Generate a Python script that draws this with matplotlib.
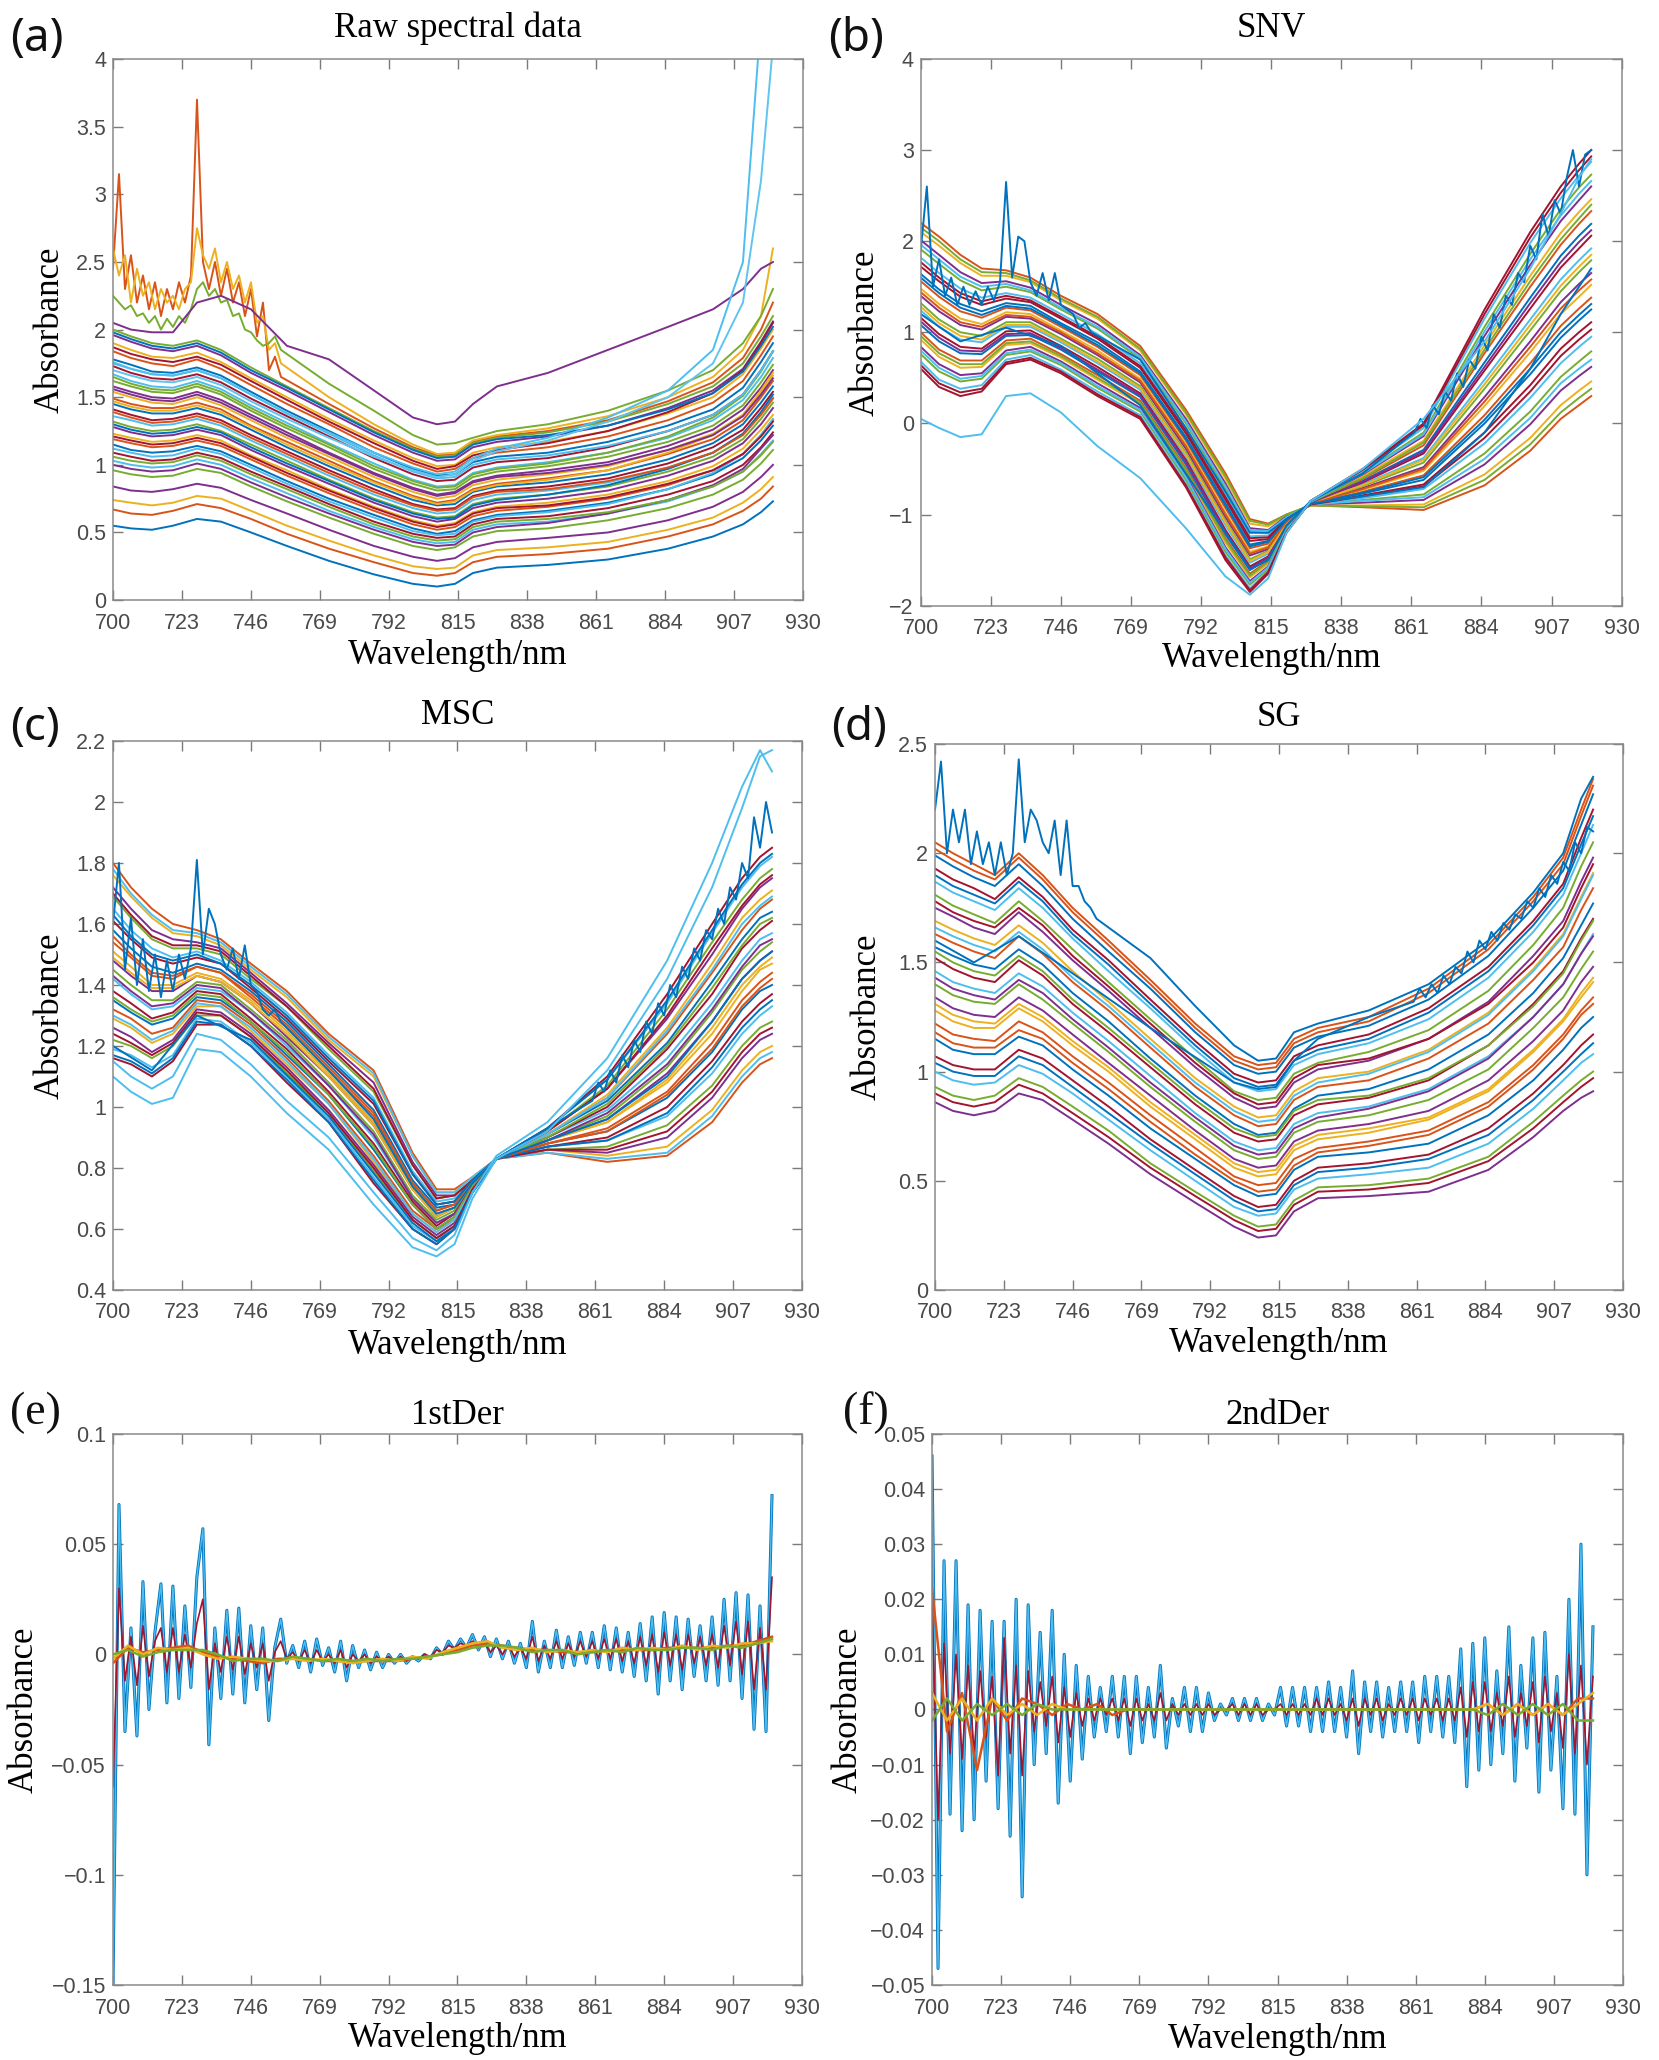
import numpy as np
import matplotlib.pyplot as plt
from matplotlib.ticker import FixedLocator, FuncFormatter

plt.rcParams['font.family'] = ['Liberation Sans', 'DejaVu Sans']

# MATLAB default line colour order
COLORS = ['#0072BD', '#D95319', '#EDB120', '#7E2F8E', '#77AC30', '#4DBEEE', '#A2142F']

# wavelength grids (nm)
WL = [700, 706, 713, 720, 728, 736, 746, 758, 772, 787, 800, 808, 814, 820, 828, 845, 865, 885, 900, 910, 916, 920]
WLN = list(range(700, 757, 2)) + [772, 787, 800, 808, 814, 820, 828, 845, 865, 885, 900, 910, 916, 920]
WLR = [700, 713, 728, 746, 772, 800, 808, 814, 820, 828, 845] + list(range(860, 921, 2))
WLD = list(range(700, 921, 2))
WLB = list(range(700, 921, 5))

# ---------------- (a) raw spectra ----------------
RAW = [
    [.55, .53, .52, .55, .60, .58, .50, .40, .29, .19, .12, .10, .12, .20, .24, .26, .30, .38, .47, .56, .65, .73],
    [.67, .64, .63, .66, .71, .68, .60, .49, .38, .28, .20, .18, .20, .28, .32, .34, .38, .47, .56, .66, .75, .84],
    [.74, .72, .70, .72, .77, .75, .66, .55, .44, .33, .25, .23, .24, .33, .37, .39, .43, .52, .61, .72, .82, .91],
    [.84, .81, .80, .82, .86, .83, .74, .64, .52, .40, .32, .29, .31, .39, .43, .46, .50, .59, .69, .80, .91, 1.00],
    [.96, .93, .91, .92, .97, .94, .84, .73, .61, .49, .40, .37, .39, .47, .51, .53, .59, .68, .78, .89, 1.01, 1.11],
    [1.03, 1.00, .98, .99, 1.04, 1.00, .90, .79, .66, .54, .45, .42, .43, .52, .56, .58, .64, .73, .84, .95, 1.08, 1.18],
    [1.09, 1.06, 1.03, 1.04, 1.09, 1.05, .95, .84, .71, .58, .49, .46, .47, .56, .60, .62, .68, .78, .88, 1.00, 1.13, 1.24],
    [1.15, 1.11, 1.09, 1.10, 1.14, 1.10, 1.00, .88, .75, .63, .53, .49, .51, .59, .63, .66, .72, .82, .93, 1.05, 1.18, 1.29],
    [1.19, 1.16, 1.13, 1.14, 1.18, 1.14, 1.04, .92, .79, .66, .56, .52, .54, .62, .66, .69, .75, .85, .96, 1.08, 1.22, 1.33],
    [1.23, 1.20, 1.17, 1.18, 1.22, 1.18, 1.07, .96, .82, .69, .59, .55, .57, .65, .69, .72, .78, .88, .99, 1.12, 1.26, 1.37],
    [1.28, 1.24, 1.21, 1.22, 1.26, 1.22, 1.11, .99, .86, .72, .62, .58, .60, .68, .72, .75, .81, .92, 1.03, 1.16, 1.30, 1.42],
    [1.32, 1.28, 1.25, 1.26, 1.30, 1.25, 1.15, 1.03, .89, .75, .65, .61, .62, .71, .75, .78, .84, .95, 1.06, 1.19, 1.34, 1.46],
    [1.36, 1.33, 1.29, 1.30, 1.34, 1.29, 1.18, 1.06, .92, .78, .68, .64, .65, .74, .78, .81, .87, .98, 1.09, 1.23, 1.38, 1.50],
    [1.41, 1.37, 1.33, 1.34, 1.38, 1.33, 1.22, 1.10, .96, .82, .71, .67, .68, .77, .81, .84, .90, 1.01, 1.13, 1.26, 1.42, 1.54],
    [1.45, 1.41, 1.38, 1.38, 1.42, 1.37, 1.26, 1.13, .99, .85, .74, .70, .71, .80, .84, .87, .93, 1.04, 1.16, 1.30, 1.46, 1.58],
    [1.49, 1.45, 1.42, 1.42, 1.46, 1.41, 1.29, 1.17, 1.03, .88, .77, .72, .74, .82, .86, .90, .96, 1.08, 1.19, 1.33, 1.50, 1.62],
    [1.54, 1.50, 1.46, 1.45, 1.50, 1.44, 1.33, 1.20, 1.06, .91, .80, .75, .77, .85, .89, .93, .99, 1.11, 1.23, 1.37, 1.53, 1.66],
    [1.58, 1.54, 1.50, 1.49, 1.54, 1.48, 1.37, 1.24, 1.09, .94, .83, .78, .80, .88, .92, .96, 1.02, 1.14, 1.26, 1.41, 1.57, 1.70],
    [1.62, 1.58, 1.54, 1.53, 1.58, 1.52, 1.40, 1.27, 1.13, .97, .86, .81, .82, .91, .95, .99, 1.06, 1.17, 1.29, 1.44, 1.61, 1.74],
    [1.67, 1.62, 1.58, 1.57, 1.62, 1.56, 1.44, 1.31, 1.16, 1.01, .89, .84, .85, .94, .98, 1.02, 1.09, 1.20, 1.33, 1.48, 1.65, 1.79],
    [1.73, 1.68, 1.64, 1.63, 1.67, 1.61, 1.49, 1.36, 1.21, 1.05, .93, .88, .89, .98, 1.02, 1.05, 1.13, 1.25, 1.37, 1.52, 1.70, 1.84],
    [1.78, 1.74, 1.69, 1.68, 1.72, 1.66, 1.54, 1.40, 1.25, 1.09, .97, .92, .93, 1.02, 1.06, 1.09, 1.17, 1.29, 1.41, 1.57, 1.76, 1.90],
    [1.84, 1.79, 1.75, 1.73, 1.78, 1.71, 1.59, 1.45, 1.30, 1.13, 1.01, .95, .97, 1.05, 1.09, 1.13, 1.21, 1.33, 1.46, 1.62, 1.81, 1.95],
    [1.90, 1.85, 1.80, 1.79, 1.83, 1.76, 1.64, 1.50, 1.34, 1.18, 1.05, .99, 1.00, 1.09, 1.13, 1.17, 1.25, 1.38, 1.50, 1.67, 1.86, 2.00],
    [1.96, 1.91, 1.86, 1.84, 1.88, 1.81, 1.68, 1.55, 1.39, 1.22, 1.09, 1.03, 1.04, 1.13, 1.17, 1.21, 1.29, 1.42, 1.55, 1.71, 1.91, 2.06],
    [2.00, 1.95, 1.90, 1.88, 1.92, 1.85, 1.72, 1.58, 1.42, 1.25, 1.12, 1.06, 1.07, 1.16, 1.20, 1.24, 1.32, 1.45, 1.58, 1.75, 1.95, 2.10],
]
RAW_MID = [
    [1.00, .97, .95, .96, 1.01, .97, .87, .76, .64, .52, .43, .40, .41, .50, .54, .57, .64, .74, .85, .97, 1.12, 1.22],
    [1.06, 1.03, 1.01, 1.02, 1.07, 1.03, .93, .82, .69, .56, .47, .44, .45, .54, .58, .60, .65, .74, .84, .95, 1.07, 1.17],
    [1.12, 1.09, 1.06, 1.07, 1.12, 1.08, .98, .86, .73, .61, .51, .48, .49, .58, .62, .65, .71, .82, .94, 1.08, 1.22, 1.34],
    [1.21, 1.18, 1.15, 1.16, 1.20, 1.16, 1.06, .94, .81, .68, .58, .54, .56, .64, .68, .70, .76, .86, .96, 1.08, 1.21, 1.32],
    [1.30, 1.26, 1.23, 1.24, 1.28, 1.24, 1.13, 1.01, .88, .74, .64, .60, .61, .70, .74, .78, .85, .97, 1.09, 1.23, 1.39, 1.52],
    [1.39, 1.35, 1.31, 1.32, 1.36, 1.31, 1.20, 1.08, .94, .80, .70, .66, .67, .76, .80, .82, .88, .98, 1.09, 1.22, 1.37, 1.49],
    [1.47, 1.43, 1.40, 1.40, 1.44, 1.39, 1.28, 1.15, 1.01, .87, .76, .71, .73, .81, .85, .89, .96, 1.09, 1.22, 1.37, 1.55, 1.68],
    [1.56, 1.52, 1.48, 1.47, 1.52, 1.46, 1.35, 1.22, 1.08, .93, .82, .77, .79, .87, .91, .94, 1.00, 1.11, 1.22, 1.36, 1.52, 1.64],
    [1.65, 1.60, 1.56, 1.55, 1.60, 1.54, 1.42, 1.29, 1.15, .99, .88, .83, .84, .93, .97, 1.01, 1.09, 1.21, 1.35, 1.51, 1.69, 1.84],
    [1.76, 1.71, 1.67, 1.66, 1.70, 1.64, 1.52, 1.38, 1.23, 1.07, .95, .90, .91, 1.00, 1.04, 1.07, 1.14, 1.25, 1.37, 1.52, 1.70, 1.84],
    [1.87, 1.82, 1.78, 1.76, 1.80, 1.74, 1.62, 1.48, 1.32, 1.16, 1.03, .97, .99, 1.07, 1.11, 1.16, 1.25, 1.39, 1.53, 1.70, 1.90, 2.05],
    [1.98, 1.93, 1.88, 1.86, 1.90, 1.83, 1.70, 1.57, 1.41, 1.24, 1.11, 1.05, 1.06, 1.15, 1.19, 1.22, 1.29, 1.41, 1.53, 1.69, 1.88, 2.02],
]
RAW_NOISY = {
    '#D95319': [2.45, 3.15, 2.3, 2.55, 2.2, 2.4, 2.15, 2.35, 2.1, 2.3, 2.15, 2.35, 2.2, 2.4, 3.7,
                2.5, 2.3, 2.5, 2.25, 2.45, 2.2, 2.35, 2.1, 2.3, 1.95, 2.2, 1.7, 1.8, 1.65,
                1.45, 1.27, 1.13, 1.07, 1.08, 1.17, 1.21, 1.25, 1.33, 1.47, 1.61, 1.79, 2.00, 2.2],
    '#EDB120': [2.6, 2.4, 2.55, 2.2, 2.45, 2.25, 2.35, 2.15, 2.3, 2.2, 2.25, 2.15, 2.3, 2.35, 2.75,
                2.55, 2.45, 2.6, 2.35, 2.5, 2.3, 2.4, 2.2, 2.35, 2.05, 2.1, 1.85, 1.9, 1.75,
                1.5, 1.30, 1.15, 1.08, 1.09, 1.18, 1.22, 1.27, 1.36, 1.5, 1.65, 1.85, 2.1, 2.6],
    '#77AC30': [2.25, 2.2, 2.15, 2.18, 2.1, 2.12, 2.05, 2.1, 2.0, 2.08, 2.02, 2.1, 2.05, 2.15, 2.3,
                2.35, 2.25, 2.3, 2.2, 2.22, 2.1, 2.12, 2.0, 1.98, 1.92, 1.88, 1.9, 1.95, 1.85,
                1.6, 1.4, 1.22, 1.15, 1.16, 1.2, 1.25, 1.3, 1.4, 1.55, 1.7, 1.9, 2.1, 2.3],
}
RAW_OUTLIERS = {
    '#7E2F8E': [2.05, 2.0, 1.98, 1.98, 2.2, 2.25, 2.15, 1.88, 1.78, 1.55, 1.35, 1.30, 1.32, 1.45, 1.58, 1.68, 1.85, 2.02, 2.15, 2.3, 2.45, 2.5],
    '#4DBEEE': [1.75, 1.71, 1.67, 1.66, 1.70, 1.64, 1.52, 1.38, 1.24, 1.09, .98, .93, .95, 1.05, 1.12, 1.20, 1.35, 1.55, 1.85, 2.5, 4.3, 5.0],
    '#5fc4ee': [1.70, 1.66, 1.62, 1.61, 1.65, 1.59, 1.47, 1.34, 1.20, 1.06, .96, .91, .93, 1.03, 1.10, 1.18, 1.32, 1.50, 1.75, 2.2, 3.1, 4.1],
}

# ---------------- (b) SNV ----------------
SNV = [
    [2.2, 2.05, 1.85, 1.7, 1.68, 1.6, 1.4, 1.2, .85, .15, -.55, -1.05, -1.1, -1.0, -.9, -.92, -.95, -.68, -.3, .05, .2, .3],
    [2.10, 1.95, 1.76, 1.62, 1.62, 1.55, 1.35, 1.15, .80, .10, -.61, -1.10, -1.13, -1.01, -.90, -.90, -.89, -.56, -.16, .20, .36, .46],
    [2.01, 1.85, 1.66, 1.54, 1.56, 1.49, 1.30, 1.09, .75, .05, -.66, -1.15, -1.17, -1.02, -.89, -.87, -.84, -.45, -.01, .36, .52, .62],
    [1.91, 1.75, 1.57, 1.46, 1.50, 1.44, 1.25, 1.04, .71, .00, -.72, -1.19, -1.20, -1.04, -.89, -.84, -.78, -.33, .13, .51, .68, .79],
    [1.82, 1.65, 1.48, 1.38, 1.43, 1.38, 1.20, .98, .66, -.05, -.78, -1.24, -1.23, -1.05, -.89, -.82, -.72, -.22, .28, .66, .84, .95],
    [1.72, 1.56, 1.39, 1.30, 1.37, 1.33, 1.15, .93, .61, -.11, -.84, -1.29, -1.27, -1.06, -.89, -.79, -.67, -.10, .42, .82, 1.00, 1.11],
    [1.64, 1.47, 1.31, 1.23, 1.32, 1.29, 1.10, .89, .57, -.15, -.88, -1.33, -1.29, -1.07, -.88, -.77, -.62, .00, .54, .94, 1.13, 1.25],
    [1.56, 1.39, 1.23, 1.16, 1.27, 1.24, 1.06, .84, .53, -.19, -.93, -1.37, -1.32, -1.08, -.88, -.75, -.57, .09, .66, 1.07, 1.26, 1.38],
    [1.48, 1.31, 1.15, 1.09, 1.22, 1.20, 1.02, .80, .49, -.23, -.98, -1.41, -1.35, -1.09, -.88, -.73, -.52, .19, .78, 1.20, 1.39, 1.52],
    [1.40, 1.23, 1.08, 1.03, 1.17, 1.15, .98, .75, .45, -.28, -1.03, -1.45, -1.38, -1.10, -.88, -.71, -.48, .29, .90, 1.33, 1.53, 1.65],
    [1.32, 1.14, 1.00, .96, 1.11, 1.11, .93, .71, .41, -.32, -1.07, -1.49, -1.40, -1.11, -.87, -.69, -.43, .38, 1.02, 1.45, 1.66, 1.79],
    [1.24, 1.06, .92, .89, 1.06, 1.06, .89, .66, .37, -.36, -1.12, -1.53, -1.43, -1.12, -.87, -.67, -.38, .48, 1.14, 1.58, 1.79, 1.92],
    [1.16, .98, .84, .82, 1.01, 1.02, .85, .62, .33, -.40, -1.17, -1.57, -1.46, -1.13, -.87, -.65, -.33, .58, 1.26, 1.71, 1.92, 2.06],
    [1.08, .90, .77, .76, .96, .97, .81, .57, .29, -.45, -1.22, -1.61, -1.49, -1.14, -.87, -.63, -.29, .67, 1.38, 1.84, 2.06, 2.19],
    [1.00, .81, .69, .69, .91, .93, .76, .53, .25, -.49, -1.26, -1.65, -1.51, -1.15, -.86, -.61, -.24, .77, 1.50, 1.96, 2.19, 2.33],
    [.92, .73, .61, .62, .86, .88, .72, .48, .21, -.53, -1.31, -1.69, -1.54, -1.16, -.86, -.58, -.19, .86, 1.62, 2.09, 2.32, 2.46],
    [.84, .65, .53, .55, .80, .84, .68, .44, .17, -.57, -1.36, -1.73, -1.57, -1.17, -.86, -.56, -.14, .96, 1.74, 2.22, 2.45, 2.60],
    [.76, .57, .46, .49, .75, .79, .64, .39, .13, -.62, -1.41, -1.77, -1.60, -1.18, -.86, -.54, -.10, 1.06, 1.86, 2.35, 2.59, 2.73],
    [.68, .48, .38, .42, .70, .75, .59, .35, .09, -.66, -1.45, -1.81, -1.62, -1.19, -.85, -.52, -.05, 1.15, 1.98, 2.47, 2.72, 2.87],
    [.6, .4, .3, .35, .65, .7, .55, .3, .05, -.7, -1.5, -1.85, -1.65, -1.2, -.85, -.5, 0, 1.25, 2.1, 2.6, 2.85, 3.0],
]
SNV_MID = [
    [2.15, 2.00, 1.80, 1.66, 1.65, 1.57, 1.37, 1.17, .82, .12, -.58, -1.07, -1.11, -1.00, -.90, -.91, -.92, -.62, -.23, .12, .28, .38],
    [1.96, 1.80, 1.61, 1.50, 1.53, 1.46, 1.27, 1.06, .73, .02, -.69, -1.17, -1.18, -1.03, -.89, -.85, -.81, -.39, .06, .44, .60, .70],
    [1.77, 1.60, 1.43, 1.34, 1.40, 1.35, 1.17, .95, .63, -.08, -.81, -1.26, -1.25, -1.05, -.89, -.80, -.69, -.16, .35, .74, .92, 1.03],
    [1.60, 1.43, 1.27, 1.19, 1.29, 1.26, 1.08, .86, .55, -.17, -.90, -1.35, -1.30, -1.07, -.88, -.76, -.59, .04, .60, 1.00, 1.19, 1.31],
    [1.44, 1.27, 1.11, 1.06, 1.19, 1.17, 1.00, .77, .47, -.25, -1.00, -1.43, -1.36, -1.09, -.88, -.72, -.50, .24, .84, 1.26, 1.46, 1.58],
    [1.28, 1.10, .96, .92, 1.08, 1.08, .91, .68, .39, -.34, -1.09, -1.51, -1.41, -1.11, -.87, -.68, -.40, .43, 1.08, 1.51, 1.72, 1.85],
    [1.12, .94, .80, .79, .98, .99, .83, .59, .31, -.42, -1.19, -1.59, -1.47, -1.13, -.87, -.64, -.31, .62, 1.32, 1.77, 1.99, 2.12],
    [.96, .77, .65, .65, .88, .90, .74, .50, .23, -.51, -1.28, -1.67, -1.52, -1.15, -.86, -.60, -.21, .81, 1.56, 2.02, 2.25, 2.40],
    [.80, .61, .49, .52, .77, .81, .66, .41, .15, -.59, -1.38, -1.75, -1.58, -1.17, -.86, -.55, -.12, 1.01, 1.80, 2.28, 2.52, 2.66],
    [.64, .44, .34, .38, .67, .72, .57, .32, .07, -.68, -1.47, -1.83, -1.63, -1.19, -.85, -.51, -.02, 1.20, 2.04, 2.53, 2.78, 2.93],
]
SNV_NOISY_LEFT = [1.9, 2.6, 1.5, 1.8, 1.4, 1.6, 1.3, 1.5, 1.3, 1.45, 1.3, 1.5, 1.35, 1.55, 2.65,
                  1.6, 2.05, 2.0, 1.55, 1.4, 1.65, 1.35, 1.65, 1.3, 1.25, 1.2, 1.05, 1.1, 1.0,
                  .7, -.05, -.75, -1.2, -1.2, -1.05, -.88, -.8, -.7, -.1, .6, 1.2, 1.5, 1.7]
SNV_NOISY_RIGHT = [1.2, .9, 1.05, .85, .2, -1.2, -1.6, -1.5, -1.12, -.85, -.55,
                   -.15, -.1, .05, -.05, .2, .1, .35, .25, .55, .4, .7, .6, .95, .8, 1.2, 1.05,
                   1.4, 1.3, 1.65, 1.55, 1.95, 1.8, 2.3, 2.05, 2.45, 2.3, 2.7, 3.0, 2.6, 2.95, 3.0]
SNV_OUTLIER = [.05, -.05, -.15, -.12, .3, .33, .12, -.25, -.6, -1.15, -1.68, -1.88, -1.7, -1.2, -.85, -.5, .05, .9, 1.7, 2.3, 2.7, 2.9]

# ---------------- (c) MSC ----------------
MSC = [
    [1.80, 1.72, 1.65, 1.60, 1.58, 1.55, 1.47, 1.38, 1.24, 1.12, .85, .73, .73, .77, .83, .85, .82, .84, .95, 1.08, 1.14, 1.16],
    [1.76, 1.69, 1.62, 1.57, 1.56, 1.53, 1.45, 1.36, 1.22, 1.10, .84, .72, .72, .77, .83, .86, .84, .87, .99, 1.12, 1.18, 1.20],
    [1.72, 1.65, 1.58, 1.55, 1.54, 1.52, 1.44, 1.34, 1.21, 1.08, .82, .71, .71, .76, .83, .86, .85, .90, 1.03, 1.16, 1.22, 1.24],
    [1.69, 1.62, 1.55, 1.52, 1.52, 1.50, 1.42, 1.33, 1.19, 1.05, .81, .70, .71, .76, .83, .86, .87, .94, 1.07, 1.20, 1.26, 1.28],
    [1.65, 1.58, 1.52, 1.49, 1.51, 1.48, 1.41, 1.31, 1.17, 1.03, .79, .69, .70, .76, .83, .87, .89, .97, 1.11, 1.24, 1.30, 1.33],
    [1.61, 1.55, 1.49, 1.47, 1.49, 1.47, 1.39, 1.29, 1.15, 1.01, .78, .68, .69, .76, .83, .87, .90, 1.00, 1.15, 1.28, 1.34, 1.37],
    [1.58, 1.52, 1.46, 1.44, 1.47, 1.45, 1.38, 1.28, 1.14, .99, .76, .67, .68, .75, .83, .88, .92, 1.03, 1.18, 1.32, 1.38, 1.40],
    [1.54, 1.49, 1.43, 1.42, 1.46, 1.44, 1.36, 1.26, 1.12, .97, .75, .66, .68, .75, .83, .88, .93, 1.05, 1.21, 1.35, 1.41, 1.44],
    [1.51, 1.46, 1.40, 1.40, 1.44, 1.42, 1.35, 1.25, 1.11, .95, .74, .65, .67, .75, .83, .89, .95, 1.08, 1.24, 1.38, 1.45, 1.47],
    [1.48, 1.43, 1.38, 1.38, 1.43, 1.41, 1.34, 1.23, 1.10, .94, .73, .64, .67, .75, .83, .89, .96, 1.11, 1.28, 1.42, 1.48, 1.51],
    [1.45, 1.40, 1.35, 1.35, 1.41, 1.40, 1.32, 1.22, 1.08, .92, .71, .63, .66, .74, .83, .89, .97, 1.13, 1.31, 1.45, 1.51, 1.54],
    [1.42, 1.37, 1.32, 1.33, 1.39, 1.38, 1.31, 1.20, 1.07, .90, .70, .62, .65, .74, .83, .90, .99, 1.16, 1.34, 1.48, 1.55, 1.57],
    [1.38, 1.34, 1.29, 1.31, 1.38, 1.37, 1.29, 1.19, 1.05, .88, .69, .61, .65, .74, .83, .90, 1.00, 1.19, 1.37, 1.52, 1.58, 1.61],
    [1.35, 1.31, 1.27, 1.29, 1.36, 1.35, 1.28, 1.17, 1.04, .86, .68, .60, .64, .74, .83, .91, 1.02, 1.21, 1.41, 1.55, 1.62, 1.64],
    [1.32, 1.29, 1.24, 1.26, 1.35, 1.34, 1.27, 1.16, 1.02, .84, .66, .60, .63, .73, .83, .91, 1.03, 1.24, 1.44, 1.58, 1.65, 1.68],
    [1.29, 1.26, 1.21, 1.24, 1.33, 1.33, 1.25, 1.14, 1.01, .82, .65, .59, .63, .73, .83, .91, 1.04, 1.26, 1.47, 1.62, 1.68, 1.71],
    [1.26, 1.23, 1.18, 1.22, 1.32, 1.31, 1.24, 1.13, .99, .81, .64, .58, .62, .73, .83, .92, 1.06, 1.29, 1.50, 1.65, 1.72, 1.75],
    [1.22, 1.20, 1.16, 1.20, 1.30, 1.30, 1.23, 1.11, .98, .79, .63, .57, .61, .73, .83, .92, 1.07, 1.32, 1.54, 1.68, 1.75, 1.78],
    [1.19, 1.17, 1.13, 1.17, 1.29, 1.28, 1.21, 1.10, .96, .77, .61, .56, .61, .72, .83, .93, 1.09, 1.34, 1.57, 1.72, 1.79, 1.82],
    [1.16, 1.14, 1.10, 1.15, 1.27, 1.27, 1.20, 1.08, .95, .75, .60, .55, .60, .72, .83, .93, 1.10, 1.37, 1.60, 1.75, 1.82, 1.85],
]
MSC_MID = [
    [1.78, 1.70, 1.63, 1.58, 1.57, 1.54, 1.46, 1.37, 1.23, 1.11, .84, .72, .72, .77, .83, .85, .83, .85, .97, 1.10, 1.16, 1.18],
    [1.70, 1.63, 1.56, 1.53, 1.53, 1.51, 1.43, 1.33, 1.20, 1.06, .81, .70, .71, .76, .83, .86, .86, .92, 1.05, 1.18, 1.24, 1.26],
    [1.63, 1.56, 1.50, 1.48, 1.50, 1.47, 1.40, 1.30, 1.16, 1.02, .78, .68, .69, .76, .83, .87, .89, .98, 1.13, 1.26, 1.32, 1.35],
    [1.56, 1.50, 1.44, 1.43, 1.46, 1.44, 1.37, 1.27, 1.13, .98, .75, .66, .68, .75, .83, .88, .92, 1.04, 1.19, 1.33, 1.39, 1.42],
    [1.49, 1.44, 1.39, 1.39, 1.43, 1.41, 1.34, 1.24, 1.10, .94, .73, .64, .67, .75, .83, .89, .95, 1.09, 1.26, 1.40, 1.46, 1.49],
    [1.43, 1.38, 1.33, 1.34, 1.40, 1.39, 1.31, 1.21, 1.07, .91, .70, .62, .65, .74, .83, .89, .98, 1.14, 1.32, 1.46, 1.53, 1.55],
    [1.36, 1.32, 1.28, 1.30, 1.37, 1.36, 1.28, 1.18, 1.04, .87, .68, .60, .64, .74, .83, .90, 1.01, 1.20, 1.39, 1.53, 1.60, 1.62],
    [1.30, 1.27, 1.22, 1.25, 1.34, 1.33, 1.26, 1.15, 1.01, .83, .65, .59, .63, .73, .83, .91, 1.03, 1.25, 1.45, 1.60, 1.66, 1.69],
    [1.24, 1.21, 1.17, 1.21, 1.31, 1.30, 1.23, 1.12, .98, .80, .63, .57, .61, .73, .83, .92, 1.06, 1.30, 1.52, 1.66, 1.73, 1.76],
    [1.17, 1.15, 1.11, 1.16, 1.28, 1.27, 1.20, 1.09, .95, .76, .60, .55, .60, .72, .83, .93, 1.09, 1.35, 1.58, 1.73, 1.80, 1.83],
]
MSC_NOISY_LEFT = [1.6, 1.8, 1.45, 1.62, 1.4, 1.55, 1.38, 1.5, 1.36, 1.48, 1.38, 1.5, 1.42, 1.52, 1.81,
                  1.5, 1.65, 1.6, 1.5, 1.45, 1.52, 1.42, 1.53, 1.4, 1.38, 1.32, 1.3, 1.32, 1.28,
                  1.12, .96, .74, .65, .67, .75, .83, .89, .96, 1.1, 1.28, 1.42, 1.48, 1.51]
MSC_NOISY_RIGHT = [1.2, 1.12, 1.3, 1.22, .97, .62, .56, .6, .72, .83, .93,
                   1.02, 1.08, 1.05, 1.12, 1.08, 1.17, 1.13, 1.22, 1.18, 1.28, 1.24, 1.34, 1.3, 1.4, 1.36, 1.46,
                   1.42, 1.52, 1.48, 1.58, 1.55, 1.65, 1.6, 1.72, 1.68, 1.8, 1.75, 1.95, 1.85, 2.0, 1.9]
MSC_OUTLIERS = [
    [1.10, 1.05, 1.01, 1.03, 1.19, 1.18, 1.10, .98, .86, .68, .54, .51, .55, .70, .83, .92, 1.12, 1.42, 1.72, 1.98, 2.15, 2.17],
    [1.15, 1.10, 1.06, 1.10, 1.24, 1.22, 1.14, 1.02, .90, .72, .57, .53, .58, .72, .84, .95, 1.16, 1.48, 1.80, 2.05, 2.17, 2.10],
]

# ---------------- (d) SG ----------------
SG = [
    [.86, .82, .80, .82, .90, .87, .78, .67, .53, .40, .29, .24, .25, .36, .42, .43, .45, .55, .70, .82, .88, .91],
    [.93, .89, .87, .89, .97, .93, .84, .73, .58, .45, .34, .29, .30, .41, .47, .48, .51, .61, .77, .89, .96, 1.00],
    [1.00, .96, .94, .95, 1.03, .99, .90, .78, .64, .50, .38, .34, .35, .46, .51, .53, .56, .67, .83, .96, 1.04, 1.08],
    [1.07, 1.03, 1.01, 1.01, 1.10, 1.06, .96, .84, .69, .55, .43, .38, .39, .50, .56, .58, .62, .74, .90, 1.03, 1.12, 1.17],
    [1.15, 1.10, 1.08, 1.08, 1.16, 1.12, 1.01, .89, .74, .60, .48, .43, .44, .55, .61, .63, .67, .80, .96, 1.10, 1.20, 1.25],
    [1.22, 1.17, 1.15, 1.14, 1.23, 1.18, 1.07, .95, .80, .65, .52, .48, .49, .60, .65, .68, .73, .86, 1.03, 1.17, 1.28, 1.34],
    [1.28, 1.23, 1.20, 1.20, 1.29, 1.23, 1.12, 1.00, .84, .69, .56, .52, .53, .64, .69, .72, .78, .91, 1.09, 1.23, 1.34, 1.41],
    [1.34, 1.29, 1.26, 1.25, 1.34, 1.28, 1.17, 1.04, .89, .73, .60, .56, .57, .68, .73, .76, .82, .96, 1.14, 1.28, 1.41, 1.48],
    [1.40, 1.35, 1.32, 1.31, 1.40, 1.33, 1.22, 1.09, .93, .77, .64, .60, .61, .72, .77, .80, .87, 1.01, 1.20, 1.34, 1.47, 1.55],
    [1.46, 1.41, 1.38, 1.36, 1.45, 1.39, 1.27, 1.14, .98, .81, .68, .64, .65, .76, .81, .84, .92, 1.07, 1.25, 1.40, 1.54, 1.63],
    [1.52, 1.47, 1.43, 1.41, 1.51, 1.44, 1.31, 1.18, 1.02, .85, .72, .68, .69, .80, .85, .88, .96, 1.12, 1.31, 1.46, 1.61, 1.70],
    [1.57, 1.53, 1.49, 1.47, 1.56, 1.49, 1.36, 1.23, 1.06, .89, .76, .71, .72, .83, .89, .92, 1.01, 1.17, 1.36, 1.52, 1.67, 1.77],
    [1.63, 1.59, 1.55, 1.52, 1.62, 1.54, 1.41, 1.28, 1.11, .93, .80, .75, .76, .87, .93, .96, 1.06, 1.22, 1.42, 1.57, 1.74, 1.84],
    [1.69, 1.65, 1.61, 1.58, 1.67, 1.59, 1.46, 1.32, 1.15, .97, .84, .79, .80, .91, .97, 1.00, 1.10, 1.27, 1.47, 1.63, 1.80, 1.91],
    [1.75, 1.71, 1.66, 1.63, 1.73, 1.64, 1.51, 1.37, 1.20, 1.02, .88, .83, .84, .95, 1.01, 1.05, 1.15, 1.32, 1.53, 1.69, 1.87, 1.98],
    [1.81, 1.76, 1.72, 1.68, 1.78, 1.69, 1.56, 1.41, 1.24, 1.06, .91, .87, .88, .99, 1.04, 1.09, 1.19, 1.37, 1.58, 1.75, 1.94, 2.05],
    [1.87, 1.82, 1.78, 1.74, 1.84, 1.75, 1.61, 1.46, 1.29, 1.10, .95, .91, .92, 1.03, 1.08, 1.13, 1.24, 1.43, 1.64, 1.81, 2.00, 2.13],
    [1.93, 1.88, 1.84, 1.79, 1.89, 1.80, 1.65, 1.51, 1.33, 1.14, .99, .95, .96, 1.07, 1.12, 1.17, 1.29, 1.48, 1.69, 1.86, 2.07, 2.20],
    [1.99, 1.94, 1.89, 1.85, 1.95, 1.85, 1.70, 1.55, 1.38, 1.18, 1.03, .99, 1.00, 1.11, 1.16, 1.21, 1.33, 1.53, 1.75, 1.92, 2.13, 2.27],
    [2.05, 2.0, 1.95, 1.9, 2.0, 1.9, 1.75, 1.6, 1.42, 1.22, 1.07, 1.03, 1.04, 1.15, 1.20, 1.25, 1.38, 1.58, 1.80, 1.98, 2.2, 2.34],
]
SG_MID = [
    [.90, .86, .84, .86, .94, .90, .81, .70, .56, .43, .32, .27, .28, .39, .45, .46, .49, .59, .74, .86, .93, .97],
    [1.04, 1.00, .98, .98, 1.07, 1.03, .93, .81, .67, .53, .41, .36, .37, .48, .54, .56, .60, .71, .87, 1.00, 1.08, 1.13],
    [1.18, 1.13, 1.11, 1.11, 1.19, 1.15, 1.04, .92, .77, .62, .50, .45, .46, .57, .63, .66, .71, .84, 1.01, 1.15, 1.26, 1.31],
    [1.31, 1.26, 1.23, 1.22, 1.31, 1.25, 1.14, 1.02, .86, .71, .58, .54, .55, .66, .71, .74, .79, .92, 1.10, 1.24, 1.36, 1.43],
    [1.43, 1.38, 1.35, 1.33, 1.42, 1.36, 1.24, 1.11, .95, .79, .66, .62, .63, .74, .79, .83, .91, 1.06, 1.25, 1.40, 1.54, 1.62],
    [1.55, 1.50, 1.46, 1.44, 1.53, 1.46, 1.33, 1.20, 1.04, .87, .74, .70, .71, .82, .87, .89, .97, 1.12, 1.30, 1.45, 1.60, 1.69],
    [1.66, 1.62, 1.58, 1.55, 1.64, 1.56, 1.43, 1.30, 1.13, .95, .82, .77, .78, .89, .95, .99, 1.09, 1.26, 1.46, 1.62, 1.79, 1.90],
    [1.78, 1.73, 1.69, 1.66, 1.75, 1.67, 1.53, 1.39, 1.22, 1.04, .90, .85, .86, .97, 1.03, 1.06, 1.15, 1.31, 1.50, 1.66, 1.84, 1.95],
    [1.90, 1.85, 1.81, 1.77, 1.87, 1.78, 1.63, 1.49, 1.31, 1.12, .97, .93, .94, 1.05, 1.10, 1.15, 1.27, 1.46, 1.67, 1.84, 2.04, 2.17],
    [2.02, 1.97, 1.92, 1.88, 1.98, 1.88, 1.73, 1.58, 1.40, 1.20, 1.05, 1.01, 1.02, 1.13, 1.18, 1.23, 1.36, 1.56, 1.78, 1.95, 2.17, 2.31],
]
SG_NOISY_LEFT = [2.2, 2.42, 2.0, 2.2, 2.05, 2.2, 1.95, 2.1, 1.95, 2.05, 1.9, 2.05, 1.9, 2.0, 2.43,
                 2.05, 2.2, 2.15, 2.05, 2.0, 2.15, 1.9, 2.15, 1.85, 1.85, 1.78, 1.75, 1.7, 1.68,
                 1.52, 1.3, 1.12, 1.05, 1.06, 1.18, 1.22, 1.28, 1.40, 1.6, 1.82, 2.0, 2.25, 2.35]
SG_NOISY_RIGHT = [1.6, 1.5, 1.62, 1.45, 1.2, .95, .92, .93, 1.05, 1.15, 1.25,
                  1.32, 1.38, 1.34, 1.4, 1.36, 1.44, 1.4, 1.48, 1.45, 1.55, 1.5, 1.6, 1.56, 1.64, 1.6, 1.68,
                  1.65, 1.72, 1.7, 1.78, 1.75, 1.84, 1.8, 1.9, 1.86, 1.96, 1.92, 2.05, 2.0, 2.12, 2.1]

# ---------------- (e) first derivative ----------------
DER1_MAIN = [
    -0.150, 0.068, -0.035, 0.012, -0.037, 0.033, -0.025, 0.010, 0.032, -0.022,
    0.031, -0.020, 0.022, -0.015, 0.035, 0.057, -0.041, 0.012, -0.020, 0.020,
    -0.018, 0.021, -0.022, 0.013, -0.016, 0.012, -0.030, 0.003, 0.016, -0.004,
    0.004, -0.006, 0.006, -0.008, 0.007, -0.005, 0.003, -0.008, 0.006, -0.012,
    0.004, -0.006, 0.002, -0.007, 0.001, -0.006, 0.000, -0.004, 0.000, -0.004,
    -0.001, -0.003, 0.000, -0.002, 0.003, 0.000, 0.006, 0.002, 0.007, 0.003,
    0.009, 0.002, 0.008, -0.001, 0.007, -0.002, 0.006, -0.004, 0.005, -0.006,
    0.015, -0.008, 0.006, -0.006, 0.011, -0.006, 0.008, -0.005, 0.010, -0.004,
    0.010, -0.006, 0.013, -0.007, 0.012, -0.008, 0.010, -0.010, 0.014, -0.012,
    0.017, -0.018, 0.019, -0.012, 0.017, -0.016, 0.016, -0.010, 0.013, -0.012,
    0.017, -0.014, 0.025, -0.012, 0.028, -0.020, 0.027, -0.034, 0.022, -0.035,
    0.072,
]
DER1_RED = [
    -0.060, 0.030, -0.012, 0.008, -0.014, 0.013, -0.010, 0.006, 0.012, -0.008,
    0.012, -0.008, 0.009, -0.006, 0.014, 0.025, -0.016, 0.005, -0.008, 0.008,
    -0.007, 0.008, -0.009, 0.005, -0.006, 0.005, -0.012, 0.001, 0.006, -0.002,
    0.001, -0.003, 0.002, -0.004, 0.002, -0.003, 0.000, -0.004, 0.002, -0.006,
    0.000, -0.003, 0.000, -0.004, -0.001, -0.003, -0.001, -0.003, -0.001, -0.003,
    -0.001, -0.002, 0.000, -0.001, 0.002, 0.001, 0.004, 0.003, 0.005, 0.004,
    0.006, 0.003, 0.005, 0.001, 0.004, 0.000, 0.004, -0.001, 0.003, -0.002,
    0.008, -0.003, 0.004, -0.002, 0.006, -0.002, 0.005, -0.001, 0.006, -0.001,
    0.006, -0.002, 0.007, -0.002, 0.007, -0.003, 0.006, -0.004, 0.008, -0.005,
    0.009, -0.008, 0.010, -0.005, 0.009, -0.007, 0.009, -0.004, 0.008, -0.005,
    0.009, -0.006, 0.013, -0.005, 0.015, -0.009, 0.015, -0.016, 0.012, -0.016,
    0.035,
]
DER1_BANDS = {
    '#D95319': [-0.004, 0.003, 0.001, 0.002, 0.003, 0.004, 0.001, -0.001, -0.002,
                -0.003, -0.004, -0.002, -0.002, -0.002, -0.003, -0.003, -0.003, -0.003,
                -0.003, -0.003, -0.002, -0.001, 0.000, 0.002, 0.004, 0.005, 0.004,
                0.003, 0.002, 0.002, 0.001, 0.001, 0.001, 0.002, 0.002, 0.002,
                0.002, 0.003, 0.003, 0.003, 0.003, 0.004, 0.004, 0.006, 0.008],
    '#EDB120': [-0.002, 0.004, 0.000, 0.003, 0.002, 0.003, 0.000, -0.002, -0.001,
                -0.002, -0.003, -0.003, -0.002, -0.003, -0.002, -0.003, -0.004, -0.003,
                -0.002, -0.003, -0.001, -0.002, 0.001, 0.003, 0.005, 0.006, 0.003,
                0.002, 0.003, 0.001, 0.002, 0.001, 0.002, 0.001, 0.003, 0.002,
                0.003, 0.002, 0.004, 0.002, 0.004, 0.003, 0.005, 0.005, 0.006],
    '#77AC30': [0.000, 0.002, -0.001, 0.001, 0.002, 0.002, 0.002, 0.000, -0.003,
                -0.002, -0.002, -0.003, -0.001, -0.002, -0.003, -0.002, -0.003, -0.002,
                -0.003, -0.002, -0.002, -0.001, 0.000, 0.001, 0.003, 0.004, 0.004,
                0.003, 0.001, 0.002, 0.002, 0.000, 0.001, 0.002, 0.001, 0.003,
                0.002, 0.002, 0.003, 0.003, 0.002, 0.004, 0.003, 0.005, 0.007],
}

# ---------------- (f) second derivative ----------------
DER2_MAIN = [
    0.046, -0.047, 0.027, -0.019, 0.027, -0.022, 0.019, -0.020, 0.018, -0.013,
    0.016, -0.018, 0.016, -0.023, 0.020, -0.034, 0.019, -0.010, 0.014, -0.008,
    0.018, -0.017, 0.010, -0.013, 0.008, -0.009, 0.006, -0.005, 0.004, -0.004,
    0.006, -0.005, 0.006, -0.008, 0.006, -0.006, 0.004, -0.005, 0.008, -0.007,
    0.002, -0.003, 0.004, -0.004, 0.004, -0.004, 0.003, -0.002, 0.001, -0.001,
    0.002, -0.002, 0.002, -0.002, 0.002, -0.002, 0.001, -0.001, 0.004, -0.003,
    0.004, -0.003, 0.004, -0.004, 0.004, -0.004, 0.005, -0.004, 0.004, -0.005,
    0.007, -0.008, 0.005, -0.004, 0.005, -0.005, 0.004, -0.004, 0.005, -0.004,
    0.005, -0.006, 0.006, -0.004, 0.006, -0.005, 0.006, -0.006, 0.011, -0.014,
    0.012, -0.011, 0.013, -0.010, 0.007, -0.008, 0.015, -0.013, 0.008, -0.007,
    0.013, -0.015, 0.014, -0.011, 0.006, -0.018, 0.020, -0.019, 0.030, -0.030,
    0.015,
]
DER2_RED = [
    0.020, -0.020, 0.012, -0.008, 0.010, -0.009, 0.008, -0.008, 0.007, -0.005,
    0.006, -0.012, 0.013, -0.008, 0.008, -0.012, 0.007, -0.004, 0.005, -0.003,
    0.006, -0.006, 0.004, -0.005, 0.003, -0.003, 0.002, -0.002, 0.002, -0.001,
    0.002, -0.002, 0.002, -0.003, 0.002, -0.002, 0.001, -0.002, 0.003, -0.002,
    0.001, -0.001, 0.001, -0.001, 0.001, -0.001, 0.001, -0.001, 0.000, 0.000,
    0.001, -0.001, 0.001, -0.001, 0.001, -0.001, 0.000, 0.000, 0.001, -0.001,
    0.001, -0.001, 0.001, -0.001, 0.002, -0.001, 0.002, -0.001, 0.001, -0.002,
    0.002, -0.003, 0.002, -0.001, 0.002, -0.002, 0.001, -0.001, 0.002, -0.001,
    0.002, -0.002, 0.002, -0.001, 0.002, -0.002, 0.002, -0.002, 0.004, -0.005,
    0.005, -0.004, 0.005, -0.004, 0.003, -0.003, 0.006, -0.005, 0.003, -0.003,
    0.005, -0.006, 0.006, -0.004, 0.003, -0.007, 0.010, -0.008, 0.008, -0.010,
    0.006,
]
DER2_BANDS = {
    '#D95319': [0.022, -0.004, 0.003, -0.011, 0.002, -0.002, 0.002, 0.001, -0.001,
                0.001, 0.000, 0.001, -0.001, 0.000, 0.000, 0.000, 0.000, 0.000,
                0.000, 0.000, 0.000, 0.000, 0.000, 0.000, 0.000, 0.000, 0.000,
                0.000, 0.000, 0.000, 0.000, 0.000, 0.000, 0.000, 0.000, 0.000,
                0.000, 0.001, -0.001, 0.001, -0.001, 0.001, -0.001, 0.002, 0.002],
    '#EDB120': [0.003, -0.002, 0.002, -0.002, 0.002, -0.001, 0.001, -0.001, 0.001,
                0.000, 0.000, 0.000, 0.000, 0.000, 0.000, 0.000, 0.000, 0.000,
                0.000, 0.000, 0.000, 0.000, 0.000, 0.000, 0.000, 0.000, 0.000,
                0.000, 0.000, 0.000, 0.000, 0.000, 0.000, 0.000, 0.000, 0.000,
                0.000, 0.001, -0.001, 0.001, -0.001, 0.001, -0.001, 0.001, 0.003],
    '#77AC30': [-0.002, 0.002, -0.002, 0.001, -0.001, 0.001, -0.001, 0.001, 0.000,
                0.000, 0.000, 0.000, 0.000, 0.000, 0.000, 0.000, 0.000, 0.000,
                0.000, 0.000, 0.000, 0.000, 0.000, 0.000, 0.000, 0.000, 0.000,
                0.000, 0.000, 0.000, 0.000, 0.000, 0.000, 0.000, 0.000, 0.000,
                0.000, -0.001, 0.001, -0.001, 0.001, -0.001, 0.001, -0.002, -0.002],
}

LW = 1.4


def fmt(v, pos):
    s = f'{v:g}'
    return s.replace('-', '\u2212')


def style(ax, ylim, yticks, title, title_pad, ylab_x, xlab_y):
    ax.set_xlim(700, 930)
    ax.set_ylim(*ylim)
    ax.xaxis.set_major_locator(FixedLocator(list(range(700, 931, 23))))
    ax.yaxis.set_major_locator(FixedLocator(yticks))
    ax.yaxis.set_major_formatter(FuncFormatter(fmt))
    ax.tick_params(direction='in', length=7, width=1, color='#7a7a7a',
                   labelcolor='#4a4a4a', labelsize=15.5, top=True, right=True, pad=5)
    ax.tick_params(axis='x', pad=9)
    for sp in ax.spines.values():
        sp.set_color('#8a8a8a')
        sp.set_linewidth(1.1)
    ax.set_title(title, family='Liberation Serif', fontsize=25, pad=title_pad)
    ax.set_xlabel('Wavelength/nm', family='Liberation Serif', fontsize=25)
    ax.set_ylabel('Absorbance', family='Liberation Serif', fontsize=25)
    ax.yaxis.set_label_coords(ylab_x, 0.5)
    ax.xaxis.set_label_coords(0.5, xlab_y)


def draw_family(ax, curves, start=0):
    for i, c in enumerate(curves):
        ax.plot(WL, c, color=COLORS[(i + start) % 7], lw=LW)


fig = plt.figure(figsize=(16.59, 20.60), dpi=100)

ax_a = fig.add_axes([0.0681, 0.7087, 0.4159, 0.2626])
ax_b = fig.add_axes([0.5550, 0.7060, 0.4225, 0.2654])
ax_c = fig.add_axes([0.0681, 0.3738, 0.4153, 0.2665])
ax_d = fig.add_axes([0.5636, 0.3738, 0.4147, 0.2650])
ax_e = fig.add_axes([0.0681, 0.0364, 0.4153, 0.2675])
ax_f = fig.add_axes([0.5618, 0.0364, 0.4165, 0.2675])

# (a)
for col, c in RAW_NOISY.items():
    ax_a.plot(WLN, c, color=col, lw=LW)
draw_family(ax_a, RAW)
draw_family(ax_a, RAW_MID, start=3)
for col, c in RAW_OUTLIERS.items():
    ax_a.plot(WL, c, color=col, lw=LW)
style(ax_a, (0, 4), [0, 0.5, 1, 1.5, 2, 2.5, 3, 3.5, 4], 'Raw spectral data', 16, -0.067, -0.072)

# (b)
draw_family(ax_b, SNV, start=1)
draw_family(ax_b, SNV_MID, start=4)
ax_b.plot(WLN, SNV_NOISY_LEFT, color=COLORS[0], lw=LW)
ax_b.plot(WLR, SNV_NOISY_RIGHT, color=COLORS[0], lw=LW)
ax_b.plot(WL, SNV_OUTLIER, color=COLORS[5], lw=LW)
style(ax_b, (-2, 4), [-2, -1, 0, 1, 2, 3, 4], 'SNV', 16, -0.056, -0.066)

# (c)
draw_family(ax_c, MSC, start=1)
draw_family(ax_c, MSC_MID, start=5)
ax_c.plot(WLN, MSC_NOISY_LEFT, color=COLORS[0], lw=LW)
ax_c.plot(WLR, MSC_NOISY_RIGHT, color=COLORS[0], lw=LW)
for c in MSC_OUTLIERS:
    ax_c.plot(WL, c, color=COLORS[5], lw=LW)
style(ax_c, (0.4, 2.2), [0.4, 0.6, 0.8, 1, 1.2, 1.4, 1.6, 1.8, 2, 2.2], 'MSC', 12, -0.067, -0.071)

# (d)
draw_family(ax_d, SG, start=3)
draw_family(ax_d, SG_MID, start=6)
ax_d.plot(WLN, SG_NOISY_LEFT, color=COLORS[0], lw=LW)
ax_d.plot(WLR, SG_NOISY_RIGHT, color=COLORS[0], lw=LW)
style(ax_d, (0, 2.5), [0, 0.5, 1, 1.5, 2, 2.5], 'SG', 13, -0.074, -0.067)

# (e)
ax_e.plot(WLD, DER1_MAIN, color=COLORS[0], lw=2.2)
ax_e.plot(WLD, DER1_MAIN, color=COLORS[5], lw=1.0)
ax_e.plot(WLD, DER1_RED, color=COLORS[6], lw=1.2)
for col, c in DER1_BANDS.items():
    ax_e.plot(WLB, c, color=col, lw=1.8)
style(ax_e, (-0.15, 0.1), [-0.15, -0.1, -0.05, 0, 0.05, 0.1], '1stDer', 7.5, -0.105, -0.067)

# (f)
ax_f.plot(WLD, DER2_MAIN, color=COLORS[0], lw=2.2)
ax_f.plot(WLD, DER2_MAIN, color=COLORS[5], lw=1.0)
ax_f.plot(WLD, DER2_RED, color=COLORS[6], lw=1.2)
for col, c in DER2_BANDS.items():
    ax_f.plot(WLB, c, color=col, lw=1.8)
style(ax_f, (-0.05, 0.05), [-0.05, -0.04, -0.03, -0.02, -0.01, 0, 0.01, 0.02, 0.03, 0.04, 0.05],
      '2ndDer', 7, -0.097, -0.069)

# panel tags
tags = [('(a)', 0.006, 0.981, 'Noto Sans'), ('(b)', 0.499, 0.981, 'Noto Sans'),
        ('(c)', 0.006, 0.6466, 'Noto Sans'), ('(d)', 0.501, 0.6466, 'Noto Sans'),
        ('(e)', 0.006, 0.3144, 'Liberation Serif'), ('(f)', 0.508, 0.3144, 'Liberation Serif')]
for t, x, y, fam in tags:
    fig.text(x, y, t, fontsize=33, family=fam, va='center', ha='left', color='#111111')

fig.savefig('out.png', dpi=100)
